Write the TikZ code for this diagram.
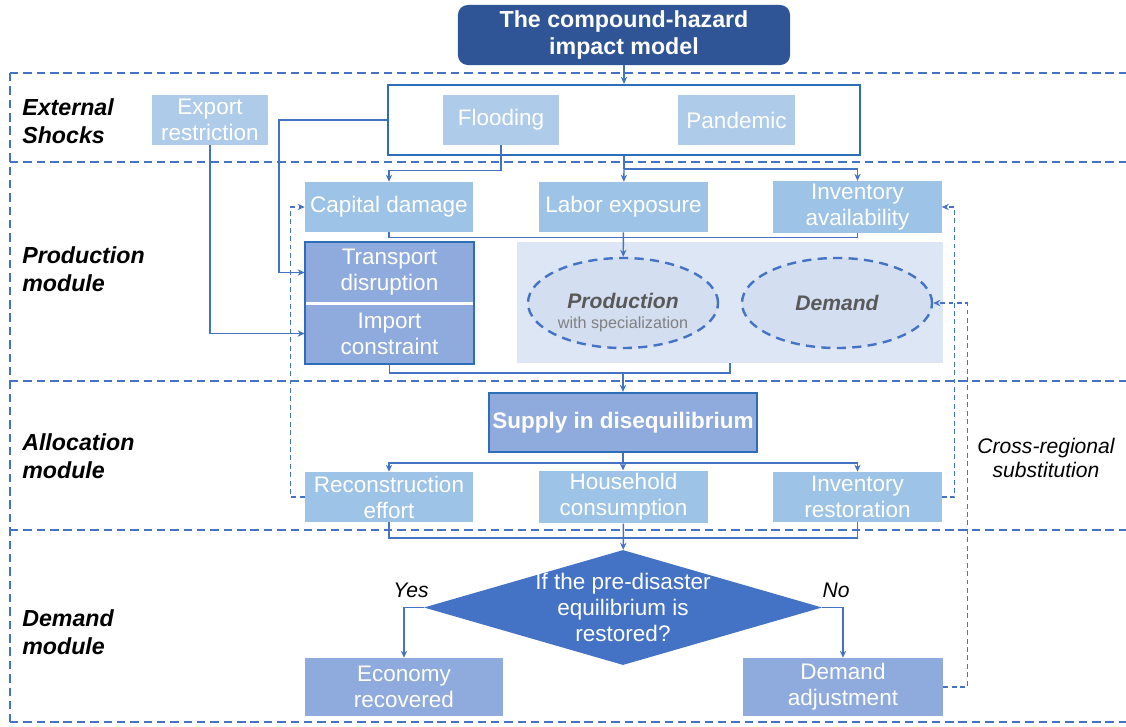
\documentclass[tikz,border=0pt]{standalone}
\usepackage{fontspec}
\setmainfont{Liberation Sans}
\usepackage{xcolor}
\definecolor{hzline}{HTML}{4472C4}
\definecolor{hzdark}{HTML}{2F5597}
\definecolor{hzedge}{HTML}{2E6DB8}
\definecolor{hzlite}{HTML}{9DC3E6}
\definecolor{hzshock}{HTML}{AECBEA}
\definecolor{hzmid}{HTML}{8FAADC}
\definecolor{hzpanel}{HTML}{DDE6F4}
\definecolor{hzoval}{HTML}{D3DEF1}
\definecolor{hzgrey}{HTML}{595959}
\usepackage{tikz}
\usetikzlibrary{arrows.meta, positioning, shapes.geometric}
\newcommand{\boxfont}{\fontsize{16}{18.5}\selectfont}

\begin{document}
\begin{tikzpicture}[
    x=0.025cm, y=-0.025cm,
    box/.style={fill=hzlite, text=white, minimum width=4.2cm, minimum height=1.25cm,
                inner sep=2pt, align=center, font=\boxfont},
    shock/.style={box, fill=hzshock, minimum width=2.9cm},
    midbox/.style={box, fill=hzmid},
    title/.style={fill=hzdark, rounded corners=7pt, text=white, minimum width=8.3cm,
                  minimum height=1.5cm, align=center,
                  font=\fontsize{16.5}{18.5}\selectfont\bfseries},
    hazards/.style={draw=hzedge, line width=1.6pt, fill=white,
                    minimum width=11.8cm, minimum height=1.75cm},
    oval/.style={ellipse, draw=hzline, dash pattern=on 6.5pt off 4.5pt, line width=1.7pt,
                 fill=hzoval, minimum width=4.75cm, minimum height=2.25cm,
                 align=center, inner sep=0pt},
    decide/.style={diamond, fill=hzline, minimum width=9.95cm, minimum height=2.875cm,
                   inner sep=0pt},
    dtext/.style={text=white, align=center, font=\boxfont},
    modlabel/.style={anchor=west, align=left, inner sep=0pt,
                     font=\fontsize{16.5}{20}\selectfont\bfseries\itshape},
    tag/.style={font=\fontsize{15}{16.5}\selectfont\itshape, align=center},
    sep/.style={hzline, line width=1.1pt, dash pattern=on 6pt off 3.5pt},
    link/.style={hzline, line width=1pt},
    arr/.style={link, -{Stealth[length=5pt, width=4.5pt]}},
    back/.style={arr, dash pattern=on 3.5pt off 2.5pt, line width=0.9pt}
  ]
  \useasboundingbox (0,0) rectangle (1126,726);

  \foreach \y in {73,162,381,530,722}
    \draw[sep] (10,\y) -- (1126,\y);
  \draw[sep] (10,73) -- (10,722);

  \node[modlabel] (extlab)    at (22,121) {External\\Shocks};
  \node[modlabel] (prodlab)   at (22,269) {Production\\module};
  \node[modlabel] (alloclab)  at (22,456) {Allocation\\module};
  \node[modlabel] (demlab)    at (22,632) {Demand\\module};

  \node[title] (title) at (624,35) {The compound-hazard\\impact model};

  \node[hazards] (shocks) at (624,120) {};
  \node[shock] (export) at (210,120)   {Export\\restriction};
  \node[shock] (flood)  at (501,120)   {Flooding};
  \node[shock] (pand)   at (736.5,120) {Pandemic};

  \node[box] (capital) at (389,207)   {Capital damage};
  \node[box] (labor)   at (623.5,207) {Labor exposure};
  \node[box] (invav)   at (857.5,207) {Inventory\\availability};

  \node[midbox, minimum width=4.225cm, minimum height=1.525cm] (transport) at (389.5,272.5) {Transport\\disruption};
  \node[midbox, minimum width=4.225cm, minimum height=1.525cm] (import)    at (389.5,333.5) {Import\\constraint};
  \draw[white, line width=2.2pt] ([xshift=1pt]transport.south west) -- ([xshift=-1pt]transport.south east);
  \draw[hzedge, line width=1.6pt] (transport.north west) rectangle (import.south east);

  \node[fill=hzpanel, minimum width=10.65cm, minimum height=3.025cm] (panel) at (730,302.5) {};
  \node[oval] (prod) at (623,303)
    {\rule{0pt}{24pt}{\fontsize{15}{17}\selectfont\bfseries\itshape\color{hzgrey}Production}\\[2pt]
     {\fontsize{11.5}{13}\selectfont\color{gray}with specialization}};
  \node[oval] (demand) at (837,303)
    {\fontsize{15}{17}\selectfont\bfseries\itshape\color{hzgrey}Demand};

  \node[midbox, draw=hzedge, line width=1.6pt, minimum width=6.7cm, minimum height=1.475cm,
        font=\boxfont\bfseries] (supply) at (623,422.5) {Supply in disequilibrium};

  \node[box] (recon)  at (389,497)   {Reconstruction\\effort};
  \node[box] (house)  at (623.5,497) {Household\\consumption};
  \node[box] (invres) at (857.5,497) {Inventory\\restoration};

  \node[decide, label={[dtext]center:If the pre-disaster\\equilibrium is\\restored?}] (decide) at (623,607.5) {};

  \node[midbox, minimum width=4.95cm, minimum height=1.45cm] (econ)   at (404,687) {Economy\\recovered};
  \node[midbox, minimum width=5cm, minimum height=1.45cm]    (demadj) at (843,687) {Demand\\adjustment};

  \node[tag] (yes)   at (411,590)  {Yes};
  \node[tag] (no)    at (836,590)  {No};
  \node[tag] (subst) at (1046,458) {Cross-regional\\substitution};

  \coordinate (prodjoin)  at (623,373);
  \coordinate (allocjoin) at (623,538);

  \draw[arr] (title) -- (shocks);
  \draw[link] (shocks.south) -- ++(0,13) coordinate (hazsplit);
  \draw[arr] (hazsplit) -- (labor);
  \draw[arr] (hazsplit) -| (invav);
  \draw[arr] (flood.south) -- ++(0,25) -| (capital);
  \draw[arr] (shocks.west) -- ++(-108,0) |- (transport);
  \draw[arr] (export) |- (import);
  \draw[link] (capital.south) -- ++(0,5) -| (invav.south);
  \draw[arr] (labor) -- (prod);
  \draw[link] (import.south) |- (prodjoin);
  \draw[link] (panel.south) |- (prodjoin);
  \draw[arr] (prodjoin) -- (supply);
  \draw[link] (supply.south) -- ++(0,10) coordinate (allocsplit);
  \draw[arr] (allocsplit) -| (recon);
  \draw[arr] (allocsplit) -| (invres);
  \draw[arr] (allocsplit) -- (house);
  \draw[link] (recon.south) |- (allocjoin);
  \draw[link] (invres.south) |- (allocjoin);
  \draw[arr] (house) -- (decide);
  \draw[arr] (decide.west) -| (econ);
  \draw[arr] (decide.east) -| (demadj);

  \draw[back] (recon.west) -- ++(-14,0) |- (capital);
  \draw[back] (invres.east) -- ++(13,0) |- (invav);
  \draw[back] (demadj.east) -- ++(24,0) |- (demand);
\end{tikzpicture}
\end{document}
